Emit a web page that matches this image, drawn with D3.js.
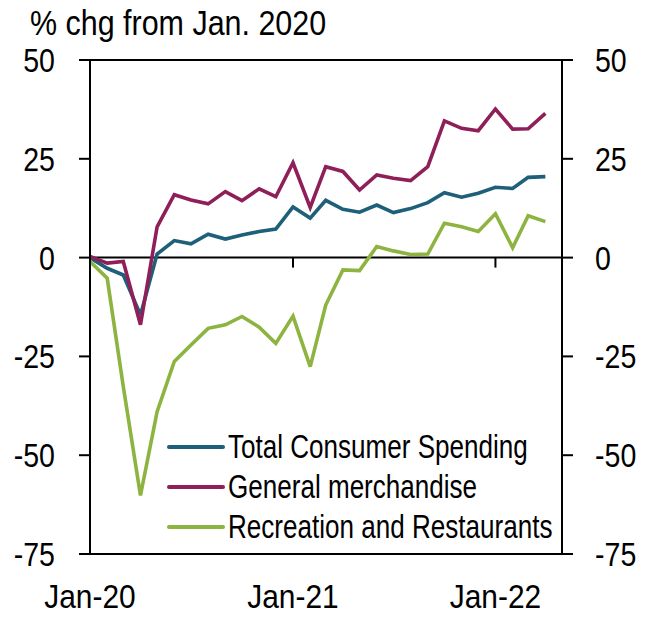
<!DOCTYPE html>
<html>
<head>
<meta charset="utf-8">
<script src="https://cdn.jsdelivr.net/npm/d3@7"></script>
<style>
  html, body { margin: 0; padding: 0; background: #fff; }
  svg { display: block; font-family: "Liberation Sans", Arial, sans-serif; }
</style>
</head>
<body>
<svg id="chart" width="652" height="618"></svg>
<script>
// monthly, Jan-20 .. Apr-22
const months = [
  "2020-01","2020-02","2020-03","2020-04","2020-05","2020-06","2020-07","2020-08",
  "2020-09","2020-10","2020-11","2020-12","2021-01","2021-02","2021-03","2021-04",
  "2021-05","2021-06","2021-07","2021-08","2021-09","2021-10","2021-11","2021-12",
  "2022-01","2022-02","2022-03","2022-04"
];
const totalSpending = [0, -2.7, -4.4, -14.5, 0.9, 4.3, 3.5, 5.9, 4.7, 5.7, 6.6, 7.2,
  12.8, 10.0, 14.5, 12.2, 11.5, 13.3, 11.4, 12.4, 13.9, 16.4, 15.3, 16.3, 17.8, 17.5, 20.3, 20.5];
const generalMerch = [0.3, -1.4, -1.0, -17.0, 7.8, 15.9, 14.6, 13.6, 16.7, 14.4, 17.4, 15.4,
  24.0, 12.7, 23.0, 21.8, 17.1, 20.9, 20.1, 19.5, 23.0, 34.6, 32.7, 32.1, 37.6, 32.5, 32.6, 36.5];
const recRestaurants = [-1.0, -5.2, -32.6, -60.2, -39.0, -26.3, -22.1, -17.9, -17.0, -14.9, -17.6, -21.7,
  -14.8, -27.6, -12.0, -3.1, -3.3, 2.8, 1.7, 0.8, 0.9, 8.7, 7.8, 6.6, 11.1, 2.5, 10.6, 9.1];

const seriesNames = ["Total Consumer Spending", "General merchandise", "Recreation and Restaurants"];
const seriesColors = ["#1e5f79", "#8e1f58", "#8db340"];
const yTicks = [50, 25, 0, -25, -50, -75];
const xTickLabels = ["Jan-20", "Jan-21", "Jan-22"];
const xTickMonths = ["2020-01", "2021-01", "2022-01"];
const titleText = "% chg from Jan. 2020";

const parse = d3.timeParse("%Y-%m");
const dates = months.map(parse);
const series = [totalSpending, generalMerch, recRestaurants];

const svg = d3.select("#chart");
const L = 90, R = 562, T = 60, B = 554;

const x = d3.scaleTime().domain([parse("2020-01"), parse("2022-05")]).range([L, R]);
const y = d3.scaleLinear().domain([-75, 50]).range([B, T]);

// condensed text helper (chart font is a narrow sans)
function label(g, tx, ty, str, size, sx, anchor) {
  return g.append("text")
    .attr("transform", `translate(${tx},${ty}) scale(${sx},1)`)
    .attr("text-anchor", anchor || "start")
    .attr("font-size", size)
    .attr("fill", "#000")
    .text(str);
}

// title
label(svg, 30, 35, titleText, 35, 0.87);

// zero line + x ticks hanging from it
svg.append("line").attr("x1", L).attr("x2", R).attr("y1", y(0)).attr("y2", y(0))
  .attr("stroke", "#000").attr("stroke-width", 2);
xTickMonths.forEach((m, i) => {
  const xx = x(parse(m));
  svg.append("line").attr("x1", xx).attr("x2", xx).attr("y1", y(0)).attr("y2", y(0) + 10)
    .attr("stroke", "#000").attr("stroke-width", 2);
  label(svg, xx, 608, xTickLabels[i], 34, 0.88, "middle");
});

// series lines
const line = d3.line().x((d, i) => x(dates[i])).y((d) => y(d));
series.forEach((s, k) => {
  svg.append("path").datum(s).attr("d", line)
    .attr("fill", "none").attr("stroke", seriesColors[k])
    .attr("stroke-width", 3.6).attr("stroke-linejoin", "miter").attr("stroke-miterlimit", 3);
});

// frame
svg.append("rect").attr("x", L).attr("y", T).attr("width", R - L).attr("height", B - T)
  .attr("fill", "none").attr("stroke", "#000").attr("stroke-width", 2);

// y ticks both sides
yTicks.forEach((v) => {
  const yy = y(v);
  svg.append("line").attr("x1", L - 11).attr("x2", L).attr("y1", yy).attr("y2", yy)
    .attr("stroke", "#000").attr("stroke-width", 2);
  svg.append("line").attr("x1", R).attr("x2", R + 11).attr("y1", yy).attr("y2", yy)
    .attr("stroke", "#000").attr("stroke-width", 2);
  label(svg, 55, yy + 12, String(v), 34, 0.84, "end");
  label(svg, 595, yy + 12, String(v), 34, 0.84, "start");
});

// legend
const lg = svg.append("g").attr("transform", "translate(169,447)");
seriesNames.forEach((n, k) => {
  const yy = k * 40;
  lg.append("line").attr("x1", 0).attr("x2", 54).attr("y1", yy).attr("y2", yy)
    .attr("stroke", seriesColors[k]).attr("stroke-width", 4).attr("stroke-linecap", "round");
  label(lg, 59, yy + 11, n, 33, 0.79);
});
</script>
</body>
</html>
